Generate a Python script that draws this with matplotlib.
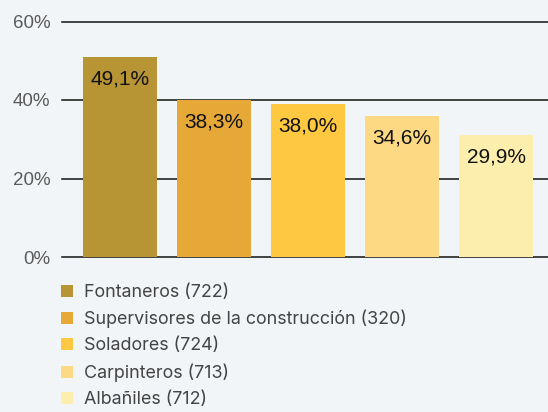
import matplotlib
matplotlib.use("Agg")
import matplotlib.pyplot as plt
from matplotlib.patches import Patch

# datos del grafico
oficios = ["Fontaneros (722)", "Supervisores de la construcción (320)",
           "Soladores (724)", "Carpinteros (713)", "Albañiles (712)"]
alturas = [51.0, 40.1, 39.0, 35.9, 31.1]   # altura de barra
etiquetas = ["49,1%", "38,3%", "38,0%", "34,6%", "29,9%"]
colores = ["#b79434", "#e6a937", "#fec840", "#fdd984", "#fcefad"]
yticks = [0, 20, 40, 60]
ytick_labels = ["0%", "20%", "40%", "60%"]

fondo = "#f2f5f7"

fig = plt.figure(figsize=(5.48, 4.12), dpi=100)
fig.patch.set_facecolor(fondo)
ax = fig.add_axes([62 / 548, 155 / 412, 486 / 548, 235.5 / 412])
ax.set_facecolor(fondo)

x = list(range(len(alturas)))
for t in yticks:
    ax.axhline(t, color="#111111", lw=1.1, zorder=1, clip_on=False)

barras = ax.bar(x, alturas, width=0.787, color=colores, zorder=2)

for xi, h, lab in zip(x, alturas, etiquetas):
    ax.annotate(lab, (xi, h), xytext=(0, -9), textcoords="offset points",
                ha="center", va="top", fontsize=15, color="#111111",
                family="Liberation Sans", zorder=3)

ax.set_xlim(-0.617, 4.553)
ax.set_ylim(0, 60)
ax.set_xticks([])
ax.set_yticks(yticks)
ax.set_yticklabels(ytick_labels, family="Liberation Sans", fontsize=13.5, color="#5a5a5a")
ax.tick_params(axis="y", length=0, pad=8.5)
for s in ax.spines.values():
    s.set_visible(False)

handles = [Patch(facecolor=c, edgecolor="none") for c in colores]
fig.legend(handles, oficios, loc="upper left", bbox_to_anchor=(61 / 548, 1 - 284 / 412),
           frameon=False, prop={"family": "Inter", "size": 12.9},
           labelcolor="#444444", handlelength=0.66, handleheight=0.66,
           handletextpad=0.6, labelspacing=0.5, borderpad=0, borderaxespad=0)

fig.savefig("out.png", dpi=100, facecolor=fondo)
